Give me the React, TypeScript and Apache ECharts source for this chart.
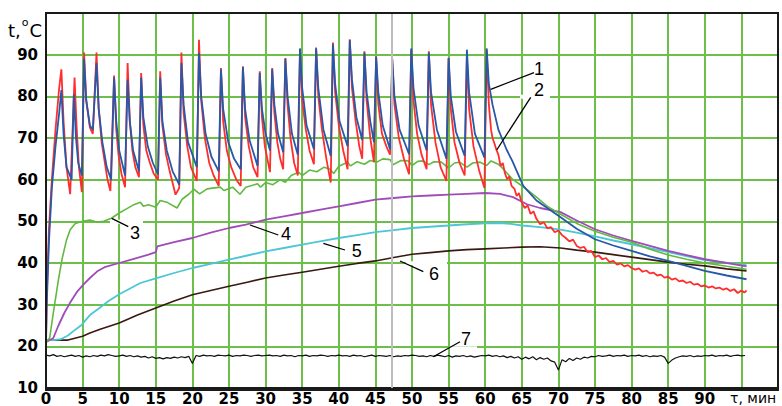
import React, { useEffect, useRef } from "react";
import * as echarts from "echarts";

// ---- data (time in minutes, temperature in °C) ----
const curve1Blue: [number, number][] = [
  [0, 21], [0.1, 30], [0.4, 45], [0.8, 58], [1.3, 68], [1.8, 76], [2.1, 81.5],
  [2.4, 71], [2.8, 63], [3.5, 60],
  [3.8, 80.5], [4.1, 70], [4.4, 64], [4.9, 61],
  [5.2, 89], [5.5, 79], [6.0, 73], [6.4, 72],
  [6.9, 88], [7.2, 77], [7.7, 69], [8.3, 63], [8.9, 60],
  [9.3, 84.5], [9.6, 74], [10.0, 67], [10.8, 61],
  [11.15, 84], [11.45, 74], [11.9, 67], [12.7, 62],
  [13.0, 84.5], [13.3, 75], [13.9, 68], [14.6, 64], [15.3, 61.3],
  [15.6, 84.5], [15.9, 74], [16.5, 67], [17.3, 62], [18.2, 58.8],
  [18.5, 88], [18.8, 78], [19.4, 69], [20.6, 63],
  [20.9, 90.4], [21.2, 80], [21.8, 71], [22.6, 65.5], [23.6, 62],
  [23.9, 86.5], [24.2, 77], [24.9, 69], [25.7, 65], [26.6, 62.5],
  [26.9, 87], [27.2, 77], [27.8, 69.5], [28.9, 63.3],
  [29.2, 85.6], [29.5, 77], [30.0, 71], [30.6, 67],
  [30.9, 86.5], [31.2, 78], [31.7, 71], [32.4, 66.6],
  [32.7, 89], [33.0, 80], [33.6, 71], [34.4, 66],
  [34.7, 91.5], [35.0, 82], [35.6, 73], [36.6, 67.3],
  [36.9, 91.5], [37.2, 82], [37.9, 72], [38.9, 65.7],
  [39.2, 92.5], [39.5, 83], [40.1, 74], [41.2, 68],
  [41.5, 93.5], [41.8, 84], [42.4, 75], [43.2, 69.5],
  [43.5, 90.5], [43.8, 81], [44.3, 74], [44.8, 69],
  [45.1, 89.5], [45.4, 81], [46.0, 73], [47.0, 67.3],
  [47.3, 88.9], [47.6, 80], [48.3, 72], [49.6, 66.1],
  [49.9, 91.5], [50.2, 82], [50.9, 73], [52.0, 67],
  [52.3, 90.5], [52.6, 81], [53.4, 72], [54.7, 65],
  [55.0, 89.2], [55.3, 80], [56.0, 71.5], [57.2, 65.7],
  [57.5, 91.2], [57.8, 81], [58.6, 71], [59.9, 65.3],
  [60.2, 91.5], [60.5, 83], [61.0, 78], [61.8, 72], [62.9, 67.3], [63.7, 64.5],
  [65.2, 58.5], [67, 55], [70.3, 51], [72.5, 48.2], [75, 45.7], [77.5, 44.2],
  [80, 42.9], [82.5, 41.6], [85, 40.5], [87.5, 39.3], [90, 38.1], [93, 37], [95.7, 36.1],
];

const curve2Red: [number, number][] = [
  [0, 21], [0.1, 32], [0.4, 48], [0.8, 60], [1.3, 72], [1.8, 82], [2.1, 86.5],
  [2.4, 74], [2.8, 63], [3.3, 56.5],
  [3.9, 84.5], [4.2, 72], [4.5, 63], [4.9, 57],
  [5.2, 90.5], [5.5, 79], [6.0, 72.5], [6.4, 71],
  [6.9, 90.5], [7.2, 77], [7.6, 69], [8.0, 64.5], [8.4, 60], [8.8, 57.3],
  [9.3, 85], [9.6, 72], [9.9, 66], [10.3, 61.5], [10.8, 58.2],
  [11.15, 88], [11.45, 74], [11.8, 67], [12.2, 63], [12.7, 60.6],
  [13.0, 85.6], [13.3, 73], [13.7, 67], [14.2, 64], [14.7, 61.5], [15.3, 60],
  [15.6, 86], [15.9, 73], [16.4, 66], [16.9, 62], [17.7, 56.4], [18.2, 58],
  [18.5, 90.5], [18.8, 76], [19.3, 68], [19.8, 63], [20.6, 59.7],
  [20.9, 93.6], [21.2, 79], [21.7, 70], [22.3, 64], [22.9, 61], [23.6, 58.5],
  [23.9, 86.8], [24.2, 74], [24.7, 67], [25.3, 63], [26.0, 60], [26.6, 58.5],
  [26.9, 87.2], [27.2, 75], [27.7, 68], [28.3, 63], [28.9, 60.6],
  [29.2, 86], [29.5, 75], [29.9, 68], [30.6, 61.8],
  [30.9, 86.8], [31.2, 76], [31.6, 69], [32.0, 65], [32.4, 62.5],
  [32.7, 89.2], [33.0, 78], [33.4, 70], [33.9, 64], [34.4, 61],
  [34.7, 91.2], [35.0, 79], [35.5, 72], [36.0, 67], [36.6, 63.7],
  [36.9, 91.7], [37.2, 80], [37.7, 72], [38.3, 65], [38.9, 59.3],
  [39.2, 92.9], [39.5, 81], [40.0, 73], [40.6, 67], [41.2, 62.5],
  [41.5, 93.7], [41.8, 82], [42.3, 74], [42.8, 68], [43.2, 65],
  [43.5, 90.8], [43.8, 79], [44.3, 70], [44.8, 64.2],
  [45.1, 89.6], [45.4, 78], [45.9, 71], [46.5, 68], [47.0, 66],
  [47.3, 88.9], [47.6, 78], [48.2, 70], [48.9, 65], [49.6, 61.3],
  [49.9, 91.2], [50.2, 79], [50.7, 71], [51.3, 66], [52.0, 62.5],
  [52.3, 90.8], [52.6, 78], [53.2, 69], [53.9, 63], [54.7, 59.7],
  [55.0, 89.2], [55.3, 77], [55.8, 69], [56.5, 64], [57.2, 61],
  [57.5, 89.5], [57.8, 77], [58.4, 68], [59.2, 62], [59.9, 58],
  [60.2, 91.2], [60.5, 78], [60.8, 72], [61.0, 70], [61.3, 68.5], [61.5, 67.3],
  [61.8, 66], [62.1, 63.3], [62.4, 64], [62.7, 61.5], [63.0, 60.1], [63.3, 60.8],
  [63.6, 58.5], [64.0, 57.8], [64.3, 56.1], [64.6, 56.8], [65.0, 54.5], [65.4, 53.2],
  [65.8, 53.8], [66.2, 51.8], [66.6, 52.4], [67.0, 50.6], [67.5, 49.3], [68.0, 49.8],
  [68.5, 48.3], [69.0, 48.6], [69.5, 47.4], [70.0, 47.8], [70.5, 46.7], [71.0, 46.0],
  [71.5, 45.2], [72.0, 45.6], [72.5, 44.1], [73.0, 43.6], [73.5, 43.9], [74.0, 42.6],
  [74.5, 42.9], [75.0, 41.4], [75.5, 41.8], [76.0, 40.9], [76.5, 41.2], [77.0, 40.2],
  [77.5, 40.5], [78.0, 39.6], [78.5, 39.9], [79.0, 39.2], [79.5, 39.5], [80.0, 38.8],
  [80.5, 38.4], [81.0, 38.7], [81.5, 37.9], [82.0, 38.2], [82.5, 37.5], [83.0, 37.7],
  [83.5, 37.0], [84.0, 37.2], [84.5, 36.5], [85.0, 36.7], [85.5, 36.0], [86.0, 36.3],
  [86.5, 35.6], [87.0, 35.8], [87.5, 35.2], [88.0, 35.5], [88.5, 34.8], [89.0, 35.0],
  [89.5, 34.4], [90.0, 34.6], [90.5, 34.1], [91.0, 34.4], [91.5, 33.9], [92.0, 34.1],
  [92.5, 33.6], [93.0, 33.9], [93.5, 33.3], [94.0, 33.7], [94.5, 32.8], [95.0, 33.4],
  [95.4, 32.9], [95.7, 33.4],
];

const curve3Green: [number, number][] = [
  [0, 21], [0.5, 22], [1, 28], [1.7, 36], [2.2, 41], [2.8, 45.5], [3.3, 48], [4, 49.5],
  [5, 50], [6, 50.3], [7, 49.8], [7.9, 50], [9, 50.8], [10, 52], [11, 53], [12, 54],
  [12.9, 54.6], [13.3, 53.6], [14, 54], [15, 53.4], [15.6, 55], [16.5, 54.6], [17.9, 53.2],
  [18.6, 55.3], [19.5, 56.5], [20.2, 57.7], [21, 56.6], [22, 57.8], [23.8, 58.2], [24.3, 57.4],
  [25.5, 58.2], [26.5, 56.5], [27.3, 58.2], [28.9, 59], [29.3, 58.2], [30, 59.3], [31, 58.8],
  [32, 60], [32.7, 59.4], [33.5, 61], [34.5, 61.8], [35, 61], [36, 62.3], [37, 61.9], [38, 63],
  [38.8, 62.5], [39.3, 61.5], [40, 63.2], [41.2, 64.2], [41.6, 63.3], [42.5, 64.3], [43.5, 63.7],
  [44.3, 64.6], [45.2, 64.2], [46, 65], [47, 64.8], [47.4, 63.6], [48.5, 64.6], [49.5, 64.5],
  [50, 63.4], [50.8, 64.4], [51.5, 64.5], [52.3, 63.6], [53, 64.3], [54, 64.2], [55, 62.8],
  [55.8, 64], [56.5, 64.2], [57.5, 63], [58.3, 64], [59.3, 64.2], [60.2, 63.4], [60.8, 64.5],
  [61.8, 63.7], [62.5, 62.5], [63.8, 60], [65.2, 58.3], [67, 55.8], [68.5, 53.6], [70.3, 51.7],
  [72.5, 49.5], [75, 47.6], [77.5, 46.2], [80, 45], [82.5, 43.3], [85, 41.9], [87.5, 40.9],
  [90, 40], [93, 39.2], [95.7, 38.5],
];

const curve4Purple: [number, number][] = [
  [0, 21], [1, 22], [1.7, 25], [2.5, 28], [3.3, 30.5], [4.2, 33], [5.1, 34.8], [6, 36.4],
  [7, 38], [8, 39], [10, 40], [12, 41], [14, 42], [15, 42.6], [15.2, 44], [17.5, 45],
  [20, 46], [22.5, 47.3], [25, 48.4], [27.3, 49.2], [30, 50.4], [32.5, 51.2], [35, 52],
  [37.5, 52.8], [40, 53.6], [42.5, 54.4], [45, 55.2], [47.5, 55.6], [50, 56], [52.5, 56.2],
  [55, 56.4], [57.5, 56.6], [60, 56.8], [62, 56.6], [63.8, 55.8], [65.7, 54.1], [67.5, 53.2],
  [70.3, 52.2], [72.5, 50.2], [75, 48.1], [77.5, 46.6], [80, 45.3], [85, 42.9], [90, 40.9],
  [95.7, 39.2],
];

const curve5Cyan: [number, number][] = [
  [0, 21.5], [1, 21.5], [2, 21.7], [3, 22.6], [4, 24], [4.9, 25.2], [6, 27.5], [7.4, 29.3],
  [8.5, 30.8], [10, 32.5], [12.9, 35.2], [15, 36.3], [17.5, 37.6], [20, 38.8], [22.5, 39.8],
  [25, 40.8], [27.5, 41.8], [30, 42.8], [32.5, 43.6], [35, 44.4], [37.8, 45.3], [40, 46],
  [42.5, 46.7], [45, 47.4], [47.5, 47.9], [50, 48.4], [52.5, 48.7], [55, 49], [57.5, 49.3],
  [60, 49.5], [62, 49.6], [63.5, 49.4], [65, 49], [67.5, 48.6], [70.3, 48], [72.5, 47.3],
  [75, 46.4], [77.5, 45.4], [80, 44.5], [85, 42.6], [90, 40.7], [95.7, 39.5],
];

const curve6Brown: [number, number][] = [
  [0, 21.5], [3, 21.5], [5, 22.4], [6, 23.2], [7.4, 24.1], [10, 25.6], [12.5, 27.5],
  [15, 29.2], [17.5, 30.9], [20, 32.4], [22.5, 33.4], [25, 34.4], [27.5, 35.4], [30, 36.4],
  [32.5, 37.1], [35, 37.8], [37.5, 38.5], [40, 39.2], [42.5, 39.9], [45, 40.5], [47.5, 41.3],
  [50, 42.1], [52.5, 42.5], [55, 42.9], [57.5, 43.2], [60, 43.4], [62.5, 43.6], [65, 43.8],
  [67.5, 43.9], [70.3, 43.6], [72.5, 43.1], [75, 42.6], [77.5, 42], [80, 41.4], [82.5, 40.8],
  [85, 40.2], [87.5, 39.7], [90, 39.3], [93, 38.6], [95.7, 38.1],
];

// curve 7: sampled every 0.5 min from 0 to 95.5
const curve7Step = 0.5;
const curve7Values: number[] = [
  17.9, 17.7, 18.0, 17.6, 17.8, 17.5, 17.7, 17.9, 17.6, 17.8, 17.4, 17.7, 17.5, 17.8, 17.6, 17.9, 17.7, 18.0, 17.8, 17.6, 17.7,
  17.9, 17.6, 17.8, 17.5, 17.7, 17.4, 17.6, 17.2, 17.5, 17.1, 17.3, 17.0, 17.3, 17.1, 17.4, 17.2, 17.5, 17.3, 17.6, 15.9,
  17.8, 17.6, 17.9, 17.7, 17.8, 17.6, 17.9, 17.8, 17.7, 17.9, 17.6, 17.8, 17.7, 17.9, 17.8, 17.6, 17.8, 17.9, 17.7, 17.8,
  17.9, 17.7, 17.8, 17.6, 17.9, 17.7, 17.8, 17.5, 17.8, 17.7, 17.9, 17.6, 17.8, 17.7, 17.9, 17.8, 17.6, 17.8, 17.7, 17.9,
  17.7, 17.8, 17.6, 17.9, 17.7, 17.8, 17.5, 17.7, 17.9, 17.6, 17.8, 17.7, 17.6, 17.8, 17.5, 17.7, 17.6, 17.8, 17.7, 17.9,
  17.8, 17.6, 17.7, 17.5, 17.8, 17.6, 17.9, 17.7, 17.5, 17.8, 17.4, 17.7, 17.6, 17.8, 17.5, 17.7, 17.4, 17.6, 17.8, 17.7,
  17.9, 17.6, 17.8, 17.5, 17.7, 17.3, 17.6, 17.2, 17.5, 16.9, 17.4, 17.0, 17.5, 16.8, 17.3, 16.9, 17.2, 16.5, 16.2, 14.3,
  16.8, 16.3, 17.1, 16.6, 17.2, 16.9, 17.4, 17.2, 17.6, 17.5, 17.8, 17.6, 17.7, 17.9, 17.6, 17.8, 17.7, 17.9, 17.6, 17.8,
  17.7, 17.9, 17.6, 17.8, 17.5, 17.7, 17.6, 17.8, 17.4, 15.9, 16.7, 17.2, 17.5, 17.7, 17.6, 17.8, 17.5, 17.7, 17.6, 17.8,
  17.7, 17.9, 17.6, 17.8, 17.7, 17.9, 17.6, 17.8, 17.9, 17.7, 17.8,
];

const grayMarkerTime = 47.3;
const curveLabels = ["1", "2", "3", "4", "5", "6", "7"];

const GRID = { left: 46, top: 13, right: 4, bottom: 16 };
const W = 782;
const H = 406;
const PW = W - GRID.left - GRID.right;
const PH = H - GRID.top - GRID.bottom;
const FONT = "DejaVu Sans";
const LFONT = "Liberation Sans";

export default function App() {
  const ref = useRef<HTMLDivElement>(null);
  useEffect(() => {
    if (!ref.current) return;
    const chart = echarts.init(ref.current, null, { renderer: "svg" });
    const curve7 = curve7Values.map((v, i) => [i * curve7Step, v]);
    const lineSeries = (name: string, data: any, color: string, width: number, extra: any = {}) => ({
      name,
      type: "line",
      data,
      showSymbol: false,
      symbol: "none",
      lineStyle: { color, width },
      itemStyle: { color },
      emphasis: { disabled: true },
      silent: true,
      ...extra,
    });

    const labelPos: [number, number][] = [
      [539, 68.5], [539, 90], [135, 232.5], [286, 234], [356.7, 250.5], [434, 274], [466, 339],
    ];
    const leaders: [number, number, number, number][] = [
      [534, 72.7, 490.7, 89.3],
      [530.7, 97.3, 496.7, 150],
      [111.7, 218.3, 128.3, 226.7],
      [250, 225, 278.3, 235],
      [323.3, 243.3, 345, 250],
      [400, 261, 423.3, 271.7],
      [433.3, 356.7, 460, 341.7],
    ];
    const gaps: [number, number, number][] = [
      [520, 550, 96.7],
      [110, 143, 221.7],
      [406, 447, 263.3],
      [450, 477, 348.3],
    ];

    const graphics: any[] = [
      {
        type: "rect",
        shape: { x: GRID.left, y: GRID.top, width: PW, height: PH },
        style: { fill: "none", stroke: "#1a1a1a", lineWidth: 2 },
        z: 100,
        silent: true,
      },
      ...gaps.map(([x1, x2, y]) => ({
        type: "rect",
        shape: { x: x1, y: y - 2, width: x2 - x1, height: 4 },
        style: { fill: "#ffffff" },
        z: 50,
        silent: true,
      })),
      ...leaders.map(([x1, y1, x2, y2]) => ({
        type: "line",
        shape: { x1, y1, x2, y2 },
        style: { stroke: "#000", lineWidth: 1.3 },
        z: 60,
        silent: true,
      })),
      ...curveLabels.map((t, i) => ({
        type: "text",
        x: labelPos[i][0],
        y: labelPos[i][1],
        style: {
          text: t,
          fill: "#000",
          font: `18px "${LFONT}"`,
          align: "center",
          verticalAlign: "middle",
        },
        z: 60,
        silent: true,
      })),
      {
        type: "text",
        x: 8,
        y: 17,
        style: {
          text: "{a|t,}{b|o}{a|C}",
          fill: "#000",
          verticalAlign: "top",
          rich: {
            a: { fontFamily: FONT, fontSize: 18, fill: "#000", lineHeight: 22, verticalAlign: "bottom" },
            b: { fontFamily: FONT, fontSize: 11, fill: "#000", lineHeight: 22, verticalAlign: "top", padding: [0, 1, 0, 1] },
          },
        },
        z: 60,
      },
      {
        type: "text",
        x: 730,
        y: 398,
        style: { text: "τ, мин", fill: "#000", font: `14px "${FONT}"`, verticalAlign: "middle", lineHeight: 15 },
        z: 60,
      },
    ];

    chart.setOption({
      animation: false,
      backgroundColor: "#ffffff",
      grid: { left: GRID.left, top: GRID.top, right: GRID.right, bottom: GRID.bottom, containLabel: false },
      xAxis: {
        type: "value",
        min: 0,
        max: 100,
        interval: 5,
        axisLine: { show: true, lineStyle: { color: "#1a1a1a", width: 2 } },
        axisTick: { show: false },
        splitLine: { show: true, lineStyle: { color: "#6cc04a", width: 2 } },
        axisLabel: {
          margin: 3,
          color: "#000",
          fontFamily: FONT,
          fontSize: 15,
          fontWeight: "bold",
          formatter: (v: number) => (v >= 95 ? "" : String(v)),
        },
      },
      yAxis: {
        type: "value",
        min: 10,
        max: 100,
        interval: 10,
        axisLine: { show: true, lineStyle: { color: "#1a1a1a", width: 2 } },
        axisTick: { show: false },
        splitLine: { show: true, lineStyle: { color: "#6cc04a", width: 2 } },
        axisLabel: {
          margin: 8,
          color: "#000",
          fontFamily: FONT,
          fontSize: 15,
          fontWeight: "bold",
          formatter: (v: number) => (v >= 100 ? "" : String(v)),
        },
      },
      series: [
        lineSeries("7", curve7, "#111111", 1.2, {
          markLine: {
            silent: true,
            symbol: "none",
            label: { show: false },
            lineStyle: { color: "#bdbdbd", width: 2, type: "solid" },
            data: [{ xAxis: grayMarkerTime }],
          },
        }),
        lineSeries("6", curve6Brown, "#3a1a10", 1.6),
        lineSeries("5", curve5Cyan, "#4cc6d6", 1.8),
        lineSeries("4", curve4Purple, "#a04cb8", 1.8),
        lineSeries("3", curve3Green, "#62b843", 1.6),
        lineSeries("2", curve2Red, "#ff2e2e", 1.8),
        lineSeries("1", curve1Blue, "#2858a8", 1.8),
      ],
      graphic: graphics,
    });
    return () => chart.dispose();
  }, []);
  return (
    <div
      ref={ref}
      style={{ position: "fixed", left: 0, top: 0, width: W, height: H }}
    />
  );
}
